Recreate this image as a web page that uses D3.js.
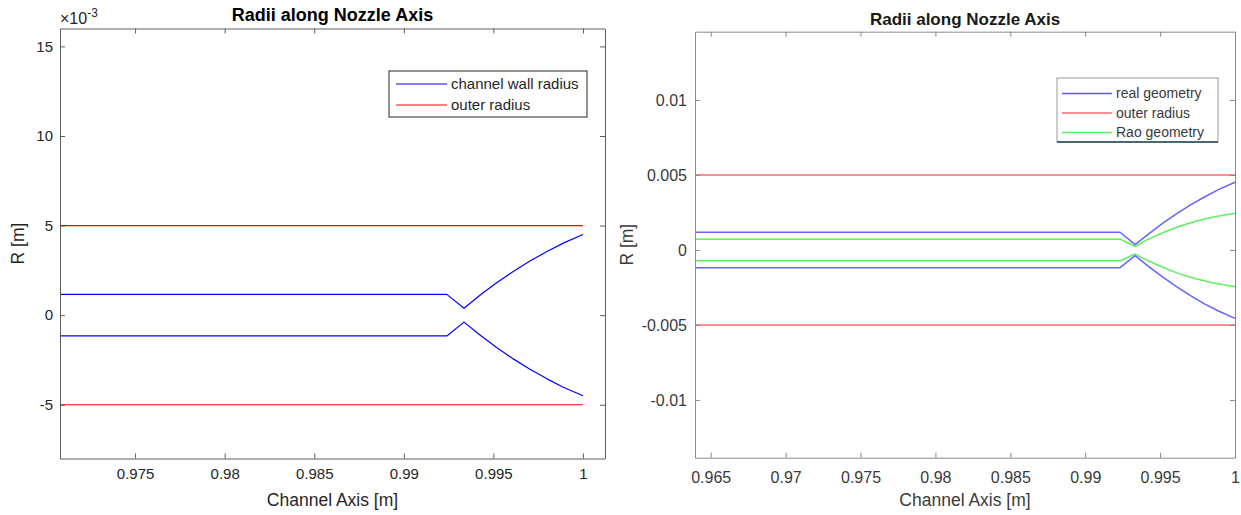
<!DOCTYPE html>
<html>
<head>
<meta charset="utf-8">
<script src="https://cdn.jsdelivr.net/npm/d3@7"></script>
<style>
body { margin: 0; background: #fff; }
svg { display: block; font-family: "Liberation Sans", Arial, Helvetica, sans-serif; }
</style>
</head>
<body>
<script>
// ---- left plot: channel wall radius / outer radius (R in m)
const leftWallX = [0.97081, 0.9924, 0.99336, 0.99425, 0.99518, 0.99611, 0.99704, 0.99797, 0.9989, 1.0];
const leftWallUpper = [1.16e-3, 1.16e-3, 0.39e-3, 1.11e-3, 1.81e-3, 2.44e-3, 3.02e-3, 3.54e-3, 4.02e-3, 4.5e-3];
const leftWallLower = [-1.16e-3, -1.16e-3, -0.39e-3, -1.11e-3, -1.81e-3, -2.44e-3, -3.02e-3, -3.54e-3, -4.02e-3, -4.5e-3];
const leftOuterX = [0.97081, 1.0];
const leftOuterUpper = [5e-3, 5e-3];
const leftOuterLower = [-5e-3, -5e-3];
const leftXTicks = [0.975, 0.98, 0.985, 0.99, 0.995, 1];
const leftXTickLabels = ["0.975", "0.98", "0.985", "0.99", "0.995", "1"];
const leftYTicks = [-5e-3, 0, 5e-3, 10e-3, 15e-3];
const leftYTickLabels = ["-5", "0", "5", "10", "15"];
const leftLegend = ["channel wall radius", "outer radius"];

// ---- right plot: real geometry / outer radius / Rao geometry
const rightRealX = [0.964, 0.99233, 0.99333, 0.99422, 0.99516, 0.99609, 0.99703, 0.99796, 0.99889, 1.0];
const rightRealUpper = [0.00118, 0.00118, 0.00035, 0.00106, 0.00177, 0.00241, 0.003, 0.00353, 0.00402, 0.00451];
const rightRealLower = [-0.00118, -0.00118, -0.00038, -0.00109, -0.0018, -0.00245, -0.00305, -0.0036, -0.00407, -0.00456];
const rightOuterX = [0.964, 1.0];
const rightOuterUpper = [0.005, 0.005];
const rightOuterLower = [-0.005, -0.005];
const rightRaoX = [0.964, 0.99233, 0.99333, 0.99411, 0.99522, 0.99633, 0.99745, 0.99855, 1.0];
const rightRaoUpper = [0.00072, 0.00072, 0.00023, 0.00067, 0.00116, 0.0016, 0.00193, 0.0022, 0.00245];
const rightRaoLower = [-0.00072, -0.00072, -0.00027, -0.00069, -0.00117, -0.00161, -0.00194, -0.00221, -0.00246];
const rightXTicks = [0.965, 0.97, 0.975, 0.98, 0.985, 0.99, 0.995, 1];
const rightXTickLabels = ["0.965", "0.97", "0.975", "0.98", "0.985", "0.99", "0.995", "1"];
const rightYTicks = [-0.01, -0.005, 0, 0.005, 0.01];
const rightYTickLabels = ["-0.01", "-0.005", "0", "0.005", "0.01"];
const rightLegend = ["real geometry", "outer radius", "Rao geometry"];

const svg = d3.select("body").append("svg")
    .attr("width", 1241)
    .attr("height", 515);

function drawPanel(p) {
    const x = d3.scaleLinear().domain(p.xDomain).range([p.left, p.right]);
    const y = d3.scaleLinear().domain(p.yDomain).range([p.bottom, p.top]);
    const g = svg.append("g");

    const line = d3.line();
    p.series.forEach(s => {
        const pts = s.xs.map((v, i) => [x(v), y(s.ys[i])]);
        g.append("path")
            .attr("d", line(pts))
            .attr("fill", "none")
            .attr("stroke", s.color)
            .attr("stroke-width", s.width)
            .attr("stroke-linejoin", "round");
    });

    function style(sel) {
        sel.selectAll("path, line").attr("stroke", p.axisColor).attr("stroke-width", 1);
        sel.selectAll("text")
            .attr("fill", p.textColor)
            .attr("font-size", p.tickFont)
            .attr("font-family", null);
    }

    g.append("g")
        .attr("transform", `translate(0,${p.bottom})`)
        .call(d3.axisBottom(x).tickValues(p.xTicks).tickFormat((d, i) => p.xTickLabels[i])
            .tickSizeInner(-5).tickSizeOuter(0).tickPadding(p.xPad))
        .call(style);
    g.append("g")
        .attr("transform", `translate(0,${p.top})`)
        .call(d3.axisTop(x).tickValues(p.xTicks).tickFormat("")
            .tickSizeInner(-5).tickSizeOuter(0))
        .call(style);
    g.append("g")
        .attr("transform", `translate(${p.left},0)`)
        .call(d3.axisLeft(y).tickValues(p.yTicks).tickFormat((d, i) => p.yTickLabels[i])
            .tickSizeInner(-5).tickSizeOuter(0).tickPadding(p.yPad))
        .call(style);
    g.append("g")
        .attr("transform", `translate(${p.right},0)`)
        .call(d3.axisRight(y).tickValues(p.yTicks).tickFormat("")
            .tickSizeInner(-5).tickSizeOuter(0))
        .call(style);

    // title and labels
    g.append("text")
        .attr("x", (p.left + p.right) / 2)
        .attr("y", p.titleY)
        .attr("text-anchor", "middle")
        .attr("font-weight", "bold")
        .attr("font-size", p.titleFont)
        .attr("fill", p.titleColor)
        .text("Radii along Nozzle Axis");
    g.append("text")
        .attr("x", (p.left + p.right) / 2)
        .attr("y", p.xLabelY)
        .attr("text-anchor", "middle")
        .attr("font-size", p.labelFont)
        .attr("fill", p.textColor)
        .text("Channel Axis [m]");
    g.append("text")
        .attr("transform", `translate(${p.yLabelX},${(p.top + p.bottom) / 2}) rotate(-90)`)
        .attr("text-anchor", "middle")
        .attr("font-size", p.labelFont)
        .attr("fill", p.textColor)
        .text("R [m]");

    // legend
    const L = p.legend;
    const lg = g.append("g");
    lg.append("rect")
        .attr("x", L.x).attr("y", L.y)
        .attr("width", L.w).attr("height", L.h)
        .attr("fill", "#fff")
        .attr("stroke", L.border)
        .attr("stroke-width", 1);
    if (L.bottomEdge) {
        lg.append("line")
            .attr("x1", L.x).attr("x2", L.x + L.w)
            .attr("y1", L.y + L.h).attr("y2", L.y + L.h)
            .attr("stroke", L.bottomEdge).attr("stroke-width", 1.5);
    }
    L.names.forEach((name, i) => {
        const yy = L.y + L.first + i * L.step;
        lg.append("line")
            .attr("x1", L.x + L.lineStart).attr("x2", L.x + L.lineEnd)
            .attr("y1", yy).attr("y2", yy)
            .attr("stroke", L.colors[i]).attr("stroke-width", L.lineWidth);
        lg.append("text")
            .attr("x", L.x + L.textStart)
            .attr("y", yy)
            .attr("dy", "0.35em")
            .attr("font-size", L.font)
            .attr("fill", p.textColor)
            .text(name);
    });
    return g;
}

const leftG = drawPanel({
    left: 60, right: 605, top: 28.5, bottom: 458.5,
    xDomain: [0.97081, 1.00123], yDomain: [-8e-3, 16e-3],
    xTicks: leftXTicks, xTickLabels: leftXTickLabels,
    yTicks: leftYTicks, yTickLabels: leftYTickLabels,
    xPad: 10, yPad: 7,
    axisColor: "#5e5e5e", textColor: "#262626", titleColor: "#000",
    tickFont: 15, labelFont: 17.5, titleFont: 18,
    titleY: 21, xLabelY: 506, yLabelX: 24,
    series: [
        { xs: leftWallX, ys: leftWallUpper, color: "#0000ff", width: 1.2 },
        { xs: leftWallX, ys: leftWallLower, color: "#0000ff", width: 1.2 },
        { xs: leftOuterX, ys: leftOuterUpper, color: "#ff0000", width: 1.2 },
        { xs: leftOuterX, ys: leftOuterLower, color: "#ff0000", width: 1.2 }
    ],
    legend: {
        x: 389, y: 71, w: 198, h: 46, border: "#262626",
        names: leftLegend, colors: ["#0000ff", "#ff0000"], lineWidth: 1.2,
        first: 13, step: 21, lineStart: 7, lineEnd: 58, textStart: 62, font: 15
    }
});

// x10^-3 exponent marker of the left axis
const expo = leftG.append("text")
    .attr("x", 60).attr("y", 24)
    .attr("fill", "#262626");
expo.append("tspan").attr("font-size", 16).text("\u00d710");
expo.append("tspan").attr("dy", -7).attr("font-size", 12).text("-3");

drawPanel({
    left: 695, right: 1235, top: 31.7, bottom: 457.7,
    xDomain: [0.96395, 1.0], yDomain: [-0.01385, 0.01455],
    xTicks: rightXTicks, xTickLabels: rightXTickLabels,
    yTicks: rightYTicks, yTickLabels: rightYTickLabels,
    xPad: 14, yPad: 8,
    axisColor: "#8a8a8a", textColor: "#3a3a3a", titleColor: "#1a1a1a",
    tickFont: 16, labelFont: 17.5, titleFont: 17,
    titleY: 25, xLabelY: 506, yLabelX: 633,
    series: [
        { xs: rightRealX, ys: rightRealUpper, color: "#6464ff", width: 1.5 },
        { xs: rightRealX, ys: rightRealLower, color: "#6464ff", width: 1.5 },
        { xs: rightOuterX, ys: rightOuterUpper, color: "#ff6a6a", width: 1.5 },
        { xs: rightOuterX, ys: rightOuterLower, color: "#ff6a6a", width: 1.5 },
        { xs: rightRaoX, ys: rightRaoUpper, color: "#5ef05e", width: 1.5 },
        { xs: rightRaoX, ys: rightRaoLower, color: "#5ef05e", width: 1.5 }
    ],
    legend: {
        x: 1057, y: 78, w: 161, h: 64, border: "#9a9a9a", bottomEdge: "#1c4658",
        names: rightLegend, colors: ["#5a5aff", "#ff6a6a", "#5ef05e"], lineWidth: 1.5,
        first: 15.5, step: 19.5, lineStart: 5, lineEnd: 55, textStart: 59, font: 14
    }
});
</script>
</body>
</html>
